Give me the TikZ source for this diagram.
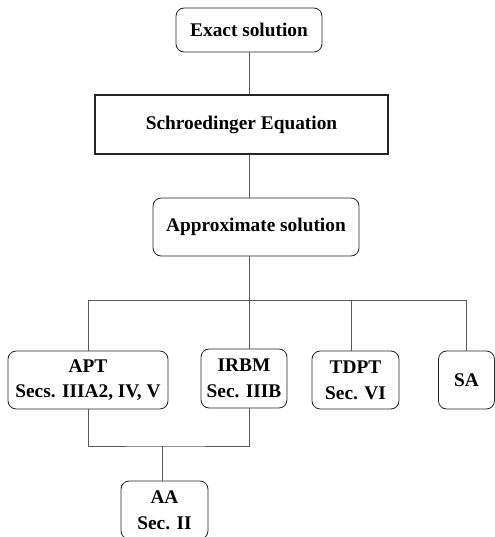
\documentclass[tikz,border=0pt]{standalone}
\usepackage{fontspec}
\setmainfont{Liberation Serif}
\tikzset{
  box/.style={draw=black!85, rounded corners=7pt, line width=0.7pt, align=center,
    inner sep=0pt, font=\bfseries\fontsize{16.5}{22}\selectfont},
  link/.style={draw=black!65, line width=0.7pt},
}
\begin{document}
\begin{tikzpicture}[x=0.03cm, y=-0.03cm]

    \useasboundingbox (0,0) rectangle (494,537);

    % Oberer Teil
    \node[box, minimum width=4.38cm, minimum height=1.32cm] (exact) at (249, 30) {Exact solution};
    \node[box, rounded corners=0pt, line width=2.2pt, minimum width=8.79cm, minimum height=1.77cm] (schr) at (241.5, 124.5) {Schroedinger Equation};
    \node[box, minimum width=6.18cm, minimum height=1.74cm] (approx) at (256, 227) {Approximate solution};

    % Methoden
    \node[box, minimum width=4.8cm, minimum height=1.74cm] (apt) at (88, 380) {APT\\Secs. IIIA2, IV, V};
    \node[box, minimum width=2.58cm, minimum height=1.77cm] (irbm) at (244, 378.5) {IRBM\\Sec. IIIB};
    \node[box, minimum width=2.61cm, minimum height=1.74cm] (tdpt) at (355.5, 380) {TDPT\\Sec. VI};
    \node[box, minimum width=1.68cm, minimum height=1.74cm] (sa) at (466.5, 380) {SA};
    \node[box, minimum width=2.61cm, minimum height=1.74cm] (aa) at (164.5, 510) {AA\\Sec. II};

    % Hilfspunkte
    \coordinate (bus) at (249, 300);
    \coordinate (join) at (162, 446);

    % Verbindungen
    \draw[link] (bus |- exact.south) -- (bus |- schr.north);
    \draw[link] (bus |- schr.south) -- (bus |- approx.north);
    \draw[link] (bus |- approx.south) -- (bus);
    \draw[link] (bus -| apt) -- (bus -| sa);
    \draw[link] (bus -| apt) -- (apt.north);
    \draw[link] (bus) -- (bus |- irbm.north);
    \draw[link] (bus -| 351,0) -- (tdpt.north -| 351,0);
    \draw[link] (bus -| sa) -- (sa.north);
    \draw[link] (apt.south) |- (join) -| (irbm.south -| bus);
    \draw[link] (join) -- (join |- aa.north);

\end{tikzpicture}
\end{document}
